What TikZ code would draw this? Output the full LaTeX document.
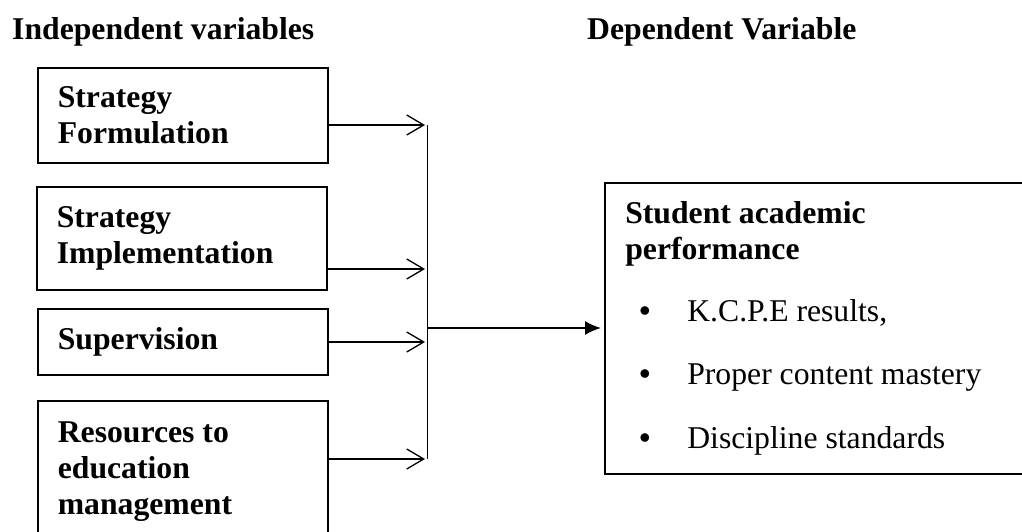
\documentclass[tikz,border=0pt]{standalone}
\usepackage{fontspec}
\setmainfont{Liberation Serif}
\usetikzlibrary{arrows.meta}
\newcommand{\pointitem}[1]{\hspace*{14pt}\makebox[48pt][l]{\textbullet}{\mdseries #1}}
\begin{document}
\begin{tikzpicture}[x=1pt,y=-1pt,
  bodyfont/.style={font=\fontsize{31.7}{36}\selectfont\bfseries},
  ivbox/.style={bodyfont,draw,line width=1.6pt,anchor=north west,minimum width=290pt,text width=250pt,inner xsep=20pt,align=flush left},
  feed/.style={-{Straight Barb[length=17pt,width=20pt]},line width=1.3pt},
  >={Latex[length=16pt,width=14pt]}]
\useasboundingbox (0,0) rectangle (1022,532);
% headings
\node[bodyfont,anchor=base west,inner sep=0pt] (hiv)at(12,40){Independent variables};
\node[bodyfont,anchor=base west,inner sep=0pt] (hdv)at(587,40){Dependent Variable};
% independent variables
\node[ivbox,minimum height=95pt] (form)at(37,67){Strategy\\Formulation};
\node[ivbox,minimum height=103pt] (impl)at(36,186){Strategy\\Implementation};
\node[ivbox,minimum height=66pt] (superv)at(37,308){Supervision};
\node[ivbox,minimum height=142pt] (res)at(37,400){Resources to\\education\\management};
% dependent variable
\node[ivbox,minimum width=418pt,minimum height=291pt,text width=377pt] (perf)at(604,182){Student academic\\performance\\[26pt]
\pointitem{K.C.P.E results,}\\[27pt]
\pointitem{Proper content mastery}\\[28pt]
\pointitem{Discipline standards}};
% bus line
\coordinate (b1)at(427,125);
\coordinate (b2)at(427,269);
\coordinate (b3)at(427,342);
\coordinate (b4)at(427,459);
\coordinate (bm)at(427,328);
\draw[feed] (form.east |- b1) -- ([xshift=-2pt]b1);
\draw[feed] (impl.east |- b2) -- ([xshift=-2pt]b2);
\draw[feed] (superv.east |- b3) -- ([xshift=-2pt]b3);
\draw[feed] (res.east |- b4) -- ([xshift=-2pt]b4);
\draw[line width=1pt] (b1) -- (b4);
\draw[->,line width=1.7pt,shorten >=3pt] (bm) -- (perf.west |- bm);
\end{tikzpicture}
\end{document}
